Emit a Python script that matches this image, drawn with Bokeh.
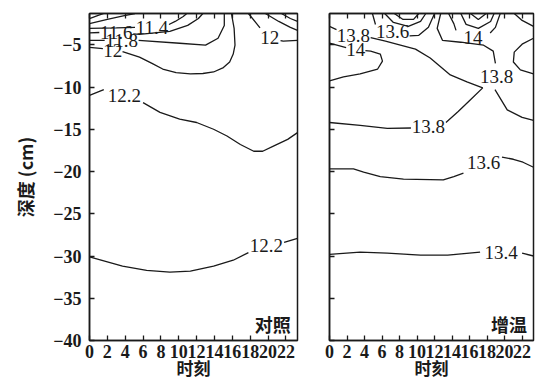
from bokeh.plotting import figure
from bokeh.layouts import row
from bokeh.models import Range1d, FixedTicker, LinearAxis, Label
from bokeh.core.properties import value
from bokeh.embed import file_html
from bokeh.resources import INLINE

nan = float("nan")

# ---------------- axes data ----------------
hour_ticks = [0, 2, 4, 6, 8, 10, 12, 14, 16, 18, 20, 22]
depth_ticks = [-40, -35, -30, -25, -20, -15, -10, -5]
depth_tick_labels = {t: "\u2212" + str(-t) for t in depth_ticks}
hour_min, hour_max = 0, 23.3
depth_min, depth_max = -40, -1.3

panel_names = ["对照", "增温"]
x_title = "时刻"
y_title = "深度 (cm)"

# ---------------- 对照 (control) contour lines: hour, depth ----------------
ctrl_a_h = [0, 0.9, 1.6]
ctrl_a_d = [-1.9, -1.55, -1.3]
ctrl_b_h = [0, 2.0, 3.9, 5.1]
ctrl_b_d = [-2.5, -2.0, -1.55, -1.3]
ctrl_114_h = [0, 3.0, 5.1, nan, 8.9, 9.6, 10.5, 10.9]
ctrl_114_d = [-3.06, -3.0, -2.94, nan, -2.6, -2.24, -1.65, -1.3]
ctrl_116_h = [0, 1.1, nan, 4.9, 5.6, 9.0, 11.0, 12.2, 12.7]
ctrl_116_d = [-3.6, -3.55, nan, -3.7, -3.76, -3.41, -2.71, -1.89, -1.3]
ctrl_118_h = [0, 1.7, nan, 5.5, 10.1, 13.0, 14.4, 15.1, 15.1]
ctrl_118_d = [-4.47, -4.47, nan, -4.47, -4.82, -5.05, -4.23, -2.71, -1.3]
ctrl_120a_h = [0, 1.5, nan, 3.7, 5.6, 7.0, 8.2, 9.7, 11.3, 12.7, 13.9, 15.0, 15.7, 16.1, 16.3, 16.2, 15.9]
ctrl_120a_d = [-5.3, -5.45, nan, -5.8, -6.46, -7.2, -7.87, -8.3, -8.45, -8.4, -8.22, -7.7, -7.04, -6.1, -5.05, -3.06, -1.3]
ctrl_120b_h = [17.8, 18.7, 19.1, nan, 21.4, 21.7, 23.3]
ctrl_120b_d = [-1.3, -2.47, -3.0, nan, -4.5, -4.58, -4.47]
ctrl_c_h = [19.7, 21.2, 22.5, 23.3]
ctrl_c_d = [-1.3, -2.24, -2.94, -3.29]
ctrl_d_h = [21.5, 22.5, 23.3]
ctrl_d_d = [-1.3, -1.89, -2.24]
ctrl_122a_h = [0, 1.6, nan, 6.0, 7.9, 10.1, 12.0, 13.9, 15.4, 16.9, 18.4, 19.4, 20.6, 22.2, 23.3]
ctrl_122a_d = [-11.0, -10.3, nan, -11.85, -13.0, -13.8, -14.2, -15.0, -15.8, -16.8, -17.6, -17.6, -17.0, -16.2, -15.4]
ctrl_122b_h = [0, 3.7, 6.4, 9.0, 11.3, 13.9, 16.1, 17.8, nan, 21.8, 23.3]
ctrl_122b_d = [-30.1, -31.2, -31.7, -31.9, -31.8, -31.2, -30.5, -29.6, nan, -28.4, -27.9]

ctrl_lines = [
    (ctrl_a_h, ctrl_a_d), (ctrl_b_h, ctrl_b_d), (ctrl_114_h, ctrl_114_d),
    (ctrl_116_h, ctrl_116_d), (ctrl_118_h, ctrl_118_d), (ctrl_120a_h, ctrl_120a_d),
    (ctrl_120b_h, ctrl_120b_d), (ctrl_c_h, ctrl_c_d), (ctrl_d_h, ctrl_d_d),
    (ctrl_122a_h, ctrl_122a_d), (ctrl_122b_h, ctrl_122b_d),
]
ctrl_label_text = ["11.4", "11.6", "11.8", "12", "12", "12.2", "12.2"]
ctrl_label_h = [7.0, 3.0, 3.6, 2.6, 20.2, 3.9, 19.8]
ctrl_label_d = [-2.94, -3.53, -4.47, -5.64, -4.11, -11.0, -28.7]

# ---------------- 增温 (warming) contour lines: hour, depth ----------------
warm_138a_h = [0, 0.8, nan, 4.7, 6.39, 8.1, 9.82, 11.5, 13.8, 15.7, 17.5, 16.1, 14.7, 13.3, nan, 9.3, 6.6, 3.5, 0]
warm_138a_d = [-2.82, -3.2, nan, -4.15, -4.58, -5.05, -5.52, -6.57, -8.57, -9.39, -10.1, -11.5, -12.9, -14.2, nan, -14.85, -14.9, -14.55, -14.2]
warm_140a_h = [0, 1.9, nan, 4.1, 4.7, 5.8, 6.05, 5.5, 3.5, 1.6, 0]
warm_140a_d = [-4.82, -5.35, nan, -5.7, -5.75, -6.1, -6.93, -7.87, -8.45, -8.8, -9.27]
warm_136a_h = [4.9, 5.25, nan, 9.15, 10.2, 11.3, 12.0]
warm_136a_d = [-1.3, -2.6, nan, -3.95, -3.88, -2.94, -1.3]
warm_d1_h = [6.3, 7.3, 9.0, 10.4, 11.0]
warm_d1_d = [-1.3, -2.36, -2.82, -2.24, -1.3]
warm_d2_h = [7.4, 8.4, 9.6, 10.2]
warm_d2_d = [-1.3, -2.0, -2.0, -1.3]
warm_138b_h = [12.7, 12.3, 12.9, 15.0, 17.6, 18.7, 18.95, nan, 18.9, 20.3, 22.0, 23.3]
warm_138b_d = [-1.3, -3.06, -4.47, -4.7, -5.05, -5.75, -7.2, nan, -10.3, -12.7, -13.6, -13.95]
warm_140b_h = [13.6, 14.2, 14.45, nan, 18.35, 18.95, 19.5]
warm_140b_d = [-1.3, -2.5, -3.3, nan, -3.6, -2.94, -1.3]
warm_e1_h = [15.0, 15.6, 17.0, 18.4, 18.8]
warm_e1_d = [-1.3, -2.59, -3.06, -2.24, -1.3]
warm_e2_h = [16.1, 17.0, 17.9]
warm_e2_d = [-1.3, -2.0, -1.3]
warm_f_h = [23.3, 22.0, 21.1, 21.0, 21.8, 23.3]
warm_f_d = [-4.23, -4.93, -5.87, -7.04, -7.98, -8.45]
warm_g_h = [21.1, 22.0, 23.3]
warm_g_d = [-1.3, -2.12, -2.82]
warm_136b_h = [0, 2.74, 3.9, 5.8, 8.45, 13.0, 14.2, 15.3, nan, 19.7, 21.0, 22.1, 23.3]
warm_136b_d = [-19.7, -19.7, -20.06, -20.6, -20.9, -21.0, -20.6, -20.2, nan, -18.3, -18.55, -18.9, -19.5]
warm_134_h = [0, 3.5, 6.6, 10.4, 13.5, 17.2, nan, 22.0, 23.3]
warm_134_d = [-29.8, -29.55, -29.67, -29.9, -29.9, -29.55, nan, -29.67, -30.0]

warm_lines = [
    (warm_138a_h, warm_138a_d), (warm_140a_h, warm_140a_d), (warm_136a_h, warm_136a_d),
    (warm_d1_h, warm_d1_d), (warm_d2_h, warm_d2_d), (warm_138b_h, warm_138b_d),
    (warm_140b_h, warm_140b_d), (warm_e1_h, warm_e1_d), (warm_e2_h, warm_e2_d),
    (warm_f_h, warm_f_d), (warm_g_h, warm_g_d), (warm_136b_h, warm_136b_d),
    (warm_134_h, warm_134_d),
]
warm_label_text = ["13.8", "14", "13.6", "14", "13.8", "13.8", "13.6", "13.4"]
warm_label_h = [2.74, 3.0, 7.2, 16.4, 11.3, 19.1, 17.6, 19.6]
warm_label_d = [-3.88, -5.52, -3.41, -4.11, -14.66, -8.8, -18.9, -29.55]

INK = "#1a1a1a"
SERIF = "Liberation Serif"
CJK = "Noto Sans CJK SC"

y_range = Range1d(depth_min, depth_max)


def style_axis(ax):
    ax.minor_tick_in = 5
    ax.minor_tick_out = 0
    ax.major_tick_in = 5
    ax.major_tick_out = 0
    ax.axis_line_width = 1.5
    ax.axis_line_color = INK
    ax.major_tick_line_color = INK
    ax.minor_tick_line_color = INK
    ax.major_tick_line_width = 1.3
    ax.minor_tick_line_width = 1.3
    ax.major_label_text_font = SERIF
    ax.major_label_text_font_style = "bold"
    ax.major_label_text_font_size = "18px"
    ax.major_label_text_color = INK


def make_panel(lines, lab_text, lab_h, lab_d, name, width, b_left, b_right, first):
    p = figure(width=width, height=382, x_range=Range1d(hour_min, hour_max), y_range=y_range,
               output_backend="svg", toolbar_location=None,
               min_border_left=b_left, min_border_right=b_right,
               min_border_top=13, min_border_bottom=0)
    p.xgrid.grid_line_color = None
    p.ygrid.grid_line_color = None
    p.background_fill_color = "white"
    p.border_fill_color = "white"
    p.outline_line_color = INK
    p.outline_line_width = 1.5

    for hs, ds in lines:
        p.line(hs, ds, line_color=INK, line_width=1.3)
    p.text(x=lab_h, y=lab_d, text=lab_text, text_font=value(SERIF), text_font_size="19px",
           text_align="center", text_baseline="middle", text_color=INK)

    xa = p.xaxis[0]
    style_axis(xa)
    xa.ticker = FixedTicker(ticks=hour_ticks, minor_ticks=[])
    xa.major_label_standoff = 4
    xa.axis_label = x_title
    xa.axis_label_text_font = CJK
    xa.axis_label_text_font_style = "bold"
    xa.axis_label_text_font_size = "17px"
    xa.axis_label_text_color = INK
    xa.axis_label_standoff = -6

    ya = p.yaxis[0]
    style_axis(ya)
    if first:
        ya.ticker = FixedTicker(ticks=depth_ticks, minor_ticks=[])
        ya.major_label_overrides = depth_tick_labels
        ya.major_label_standoff = 8
        ya.axis_label = y_title
        ya.axis_label_text_font = CJK
        ya.axis_label_text_font_style = "bold"
        ya.axis_label_text_font_size = "18px"
        ya.axis_label_text_color = INK
        ya.axis_label_standoff = 12
    else:
        ya.ticker = FixedTicker(ticks=[], minor_ticks=depth_ticks)
        ya.major_label_standoff = 0

    top = LinearAxis(ticker=FixedTicker(ticks=[], minor_ticks=hour_ticks), major_label_standoff=0)
    style_axis(top)
    p.add_layout(top, "above")

    p.add_layout(Label(x=22.55, y=-38.1, text=name, text_font=CJK, text_font_style="bold",
                       text_font_size="18px", text_align="right", text_baseline="middle",
                       text_color=INK))
    return p


p1 = make_panel(ctrl_lines, ctrl_label_text, ctrl_label_h, ctrl_label_d, panel_names[0],
                313, 89, 16, True)
p2 = make_panel(warm_lines, warm_label_text, warm_label_h, warm_label_d, panel_names[1],
                222, 16, 2, False)

layout = row(p1, p2)
open("out.html", "w").write(file_html(layout, INLINE))
